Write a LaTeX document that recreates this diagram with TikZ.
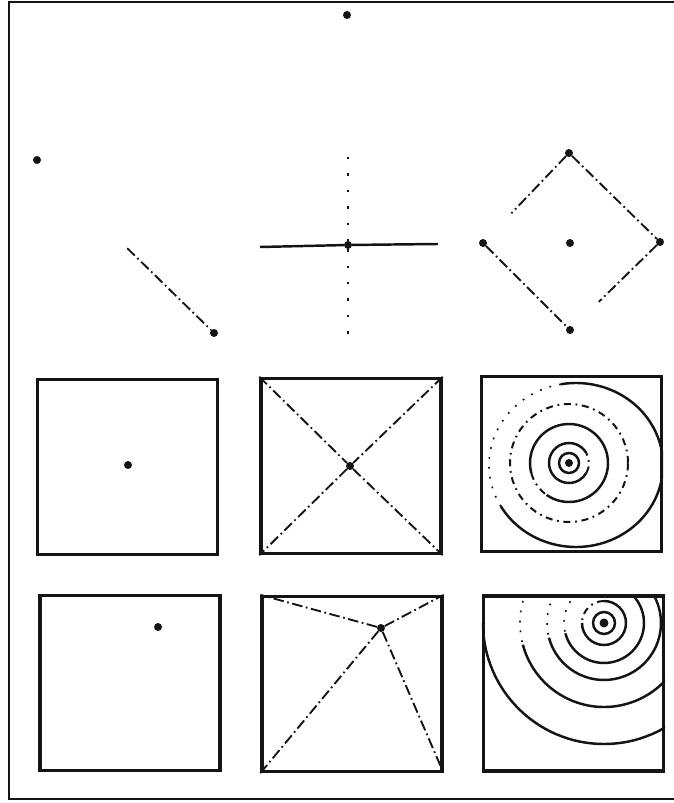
\documentclass[tikz,border=0pt]{standalone}
\usetikzlibrary{positioning, calc}
\definecolor{ink}{HTML}{141414}

\begin{document}
\begin{tikzpicture}[
  x=0.03cm, y=0.03cm,
  frameline/.style={ink, line width=2.3pt},
  panel/.style={draw=ink, line width=2.8pt, inner sep=0pt,
    minimum width=5.4cm, minimum height=5.25cm},
  spot/.style={circle, fill=ink, inner sep=0pt, minimum size=0.24cm},
  chainline/.style={ink, line width=1.6pt,
    dash pattern=on 9pt off 3pt on 1.5pt off 3pt},
  specks/.style={ink, line width=1.4pt, dash pattern=on 2pt off 12pt},
  ring/.style={ink, line width=2.1pt},
  chainring/.style={ink, line width=1.7pt,
    dash pattern=on 6pt off 4pt on 1.5pt off 4pt},
  sparsering/.style={ink, line width=1.4pt, dash pattern=on 1.5pt off 7pt},
]

% Page (pixels of the original, y up)
\useasboundingbox (0,0) rectangle (674,803);

% --- Outer frame, open on the right ---
\draw[frameline] (674,801) -- (9,801) -- (9,4) -- (674,4);

% --- Row 1: single points ---
\node[spot] (top) at (347,788) {};
\node[spot] (lone) at (37,643) {};
\node[spot] (low) at (214,470) {};
\coordinate (lonemid) at ($(lone)!0.51!(low)$);
\draw[chainline] (lonemid) -- (low);

% --- Row 1: cross ---
\node[spot] (cross) at (348,558) {};
\coordinate (crossW) at (260,556);
\coordinate (crossE) at (438,559);
\coordinate (crossN) at (348,646);
\coordinate (crossS) at (348,468);
\draw[ink, line width=2.1pt] (crossW) -- (cross) -- (crossE);
\draw[specks] (crossN) -- (cross) -- (crossS);

% --- Row 1: diamond ---
\node[spot] (dN) at (569,650) {};
\node[spot] (dW) at (483,560) {};
\node[spot] (dE) at (660,561) {};
\node[spot] (dS) at (570,473) {};
\node[spot] (dC) at (570,560) {};
\coordinate (dNW) at ($(dN)!0.67!(dW)$);
\coordinate (dSE) at ($(dE)!0.68!(dS)$);
\draw[chainline] (dN) -- (dE);
\draw[chainline] (dN) -- (dNW);
\draw[chainline] (dW) -- (dS);
\draw[chainline] (dE) -- (dSE);

% --- Row 2: square panels ---
\node[panel] (pA) at (127.5,336) {};
\node[panel] (pB) at (351,337) {};
\node[panel] (pC) at (571.5,339) {};

\node[spot] (sA) at (128,338) {};
\node[spot] (sB) at (350,337) {};
\draw[chainline] (pB.north west) -- (sB) -- (pB.south east);
\draw[chainline] (pB.north east) -- (sB) -- (pB.south west);

% rings round the centre
\node[spot] (sC) at (569,340) {};
\coordinate (oC) at (576,338);
\begin{scope}
  \clip (pC.south west) rectangle (pC.north east);
  \draw[ring] (sC) circle[radius=10];
  \draw[ring] (sC) ++(30:20) arc[start angle=30, end angle=330, radius=20];
  \draw[chainring] (sC) ++(-30:20) arc[start angle=-30, end angle=30, radius=20];
  \draw[ring] (sC) ++(235:39) arc[start angle=235, end angle=555, radius=39];
  \draw[chainring] (sC) ++(195:39) arc[start angle=195, end angle=235, radius=39];
  \draw[chainring] (sC) circle[radius=59];
  \draw[ring] (oC) ++(-150:87 and 82)
    arc[start angle=-150, end angle=100, x radius=87, y radius=82];
  \draw[sparsering] (oC) ++(100:87 and 82)
    arc[start angle=100, end angle=210, x radius=87, y radius=82];
\end{scope}

% --- Row 3: square panels ---
\node[panel] (qA) at (130,120) {};
\node[panel] (qB) at (352,119) {};
\node[panel] (qC) at (573.5,119.5) {};

\node[spot] (tA) at (158,176) {};
\node[spot] (tB) at (381,175) {};
\foreach \k in {north west, north east, south west, south east}
  \draw[chainline] (tB) -- (qB.\k);

% rings round the corner point
\node[spot, minimum size=0.27cm] (tC) at (604,180) {};
\begin{scope}
  \clip (qC.south west) rectangle (qC.north east);
  \draw[ring] (tC) circle[radius=11];
  \draw[ring] (tC) ++(180:22) arc[start angle=180, end angle=450, radius=22];
  \draw[chainring] (tC) ++(90:22) arc[start angle=90, end angle=180, radius=22];
  \foreach \r in {40,57,84} {
    \draw[ring] (tC) ++(195:\r) arc[start angle=195, end angle=450, radius=\r];
    \draw[sparsering] (tC) ++(90:\r) arc[start angle=90, end angle=195, radius=\r];
  }
  \draw[ring] (tC) ++(180:121) arc[start angle=180, end angle=450, radius=121];
\end{scope}

\end{tikzpicture}
\end{document}
